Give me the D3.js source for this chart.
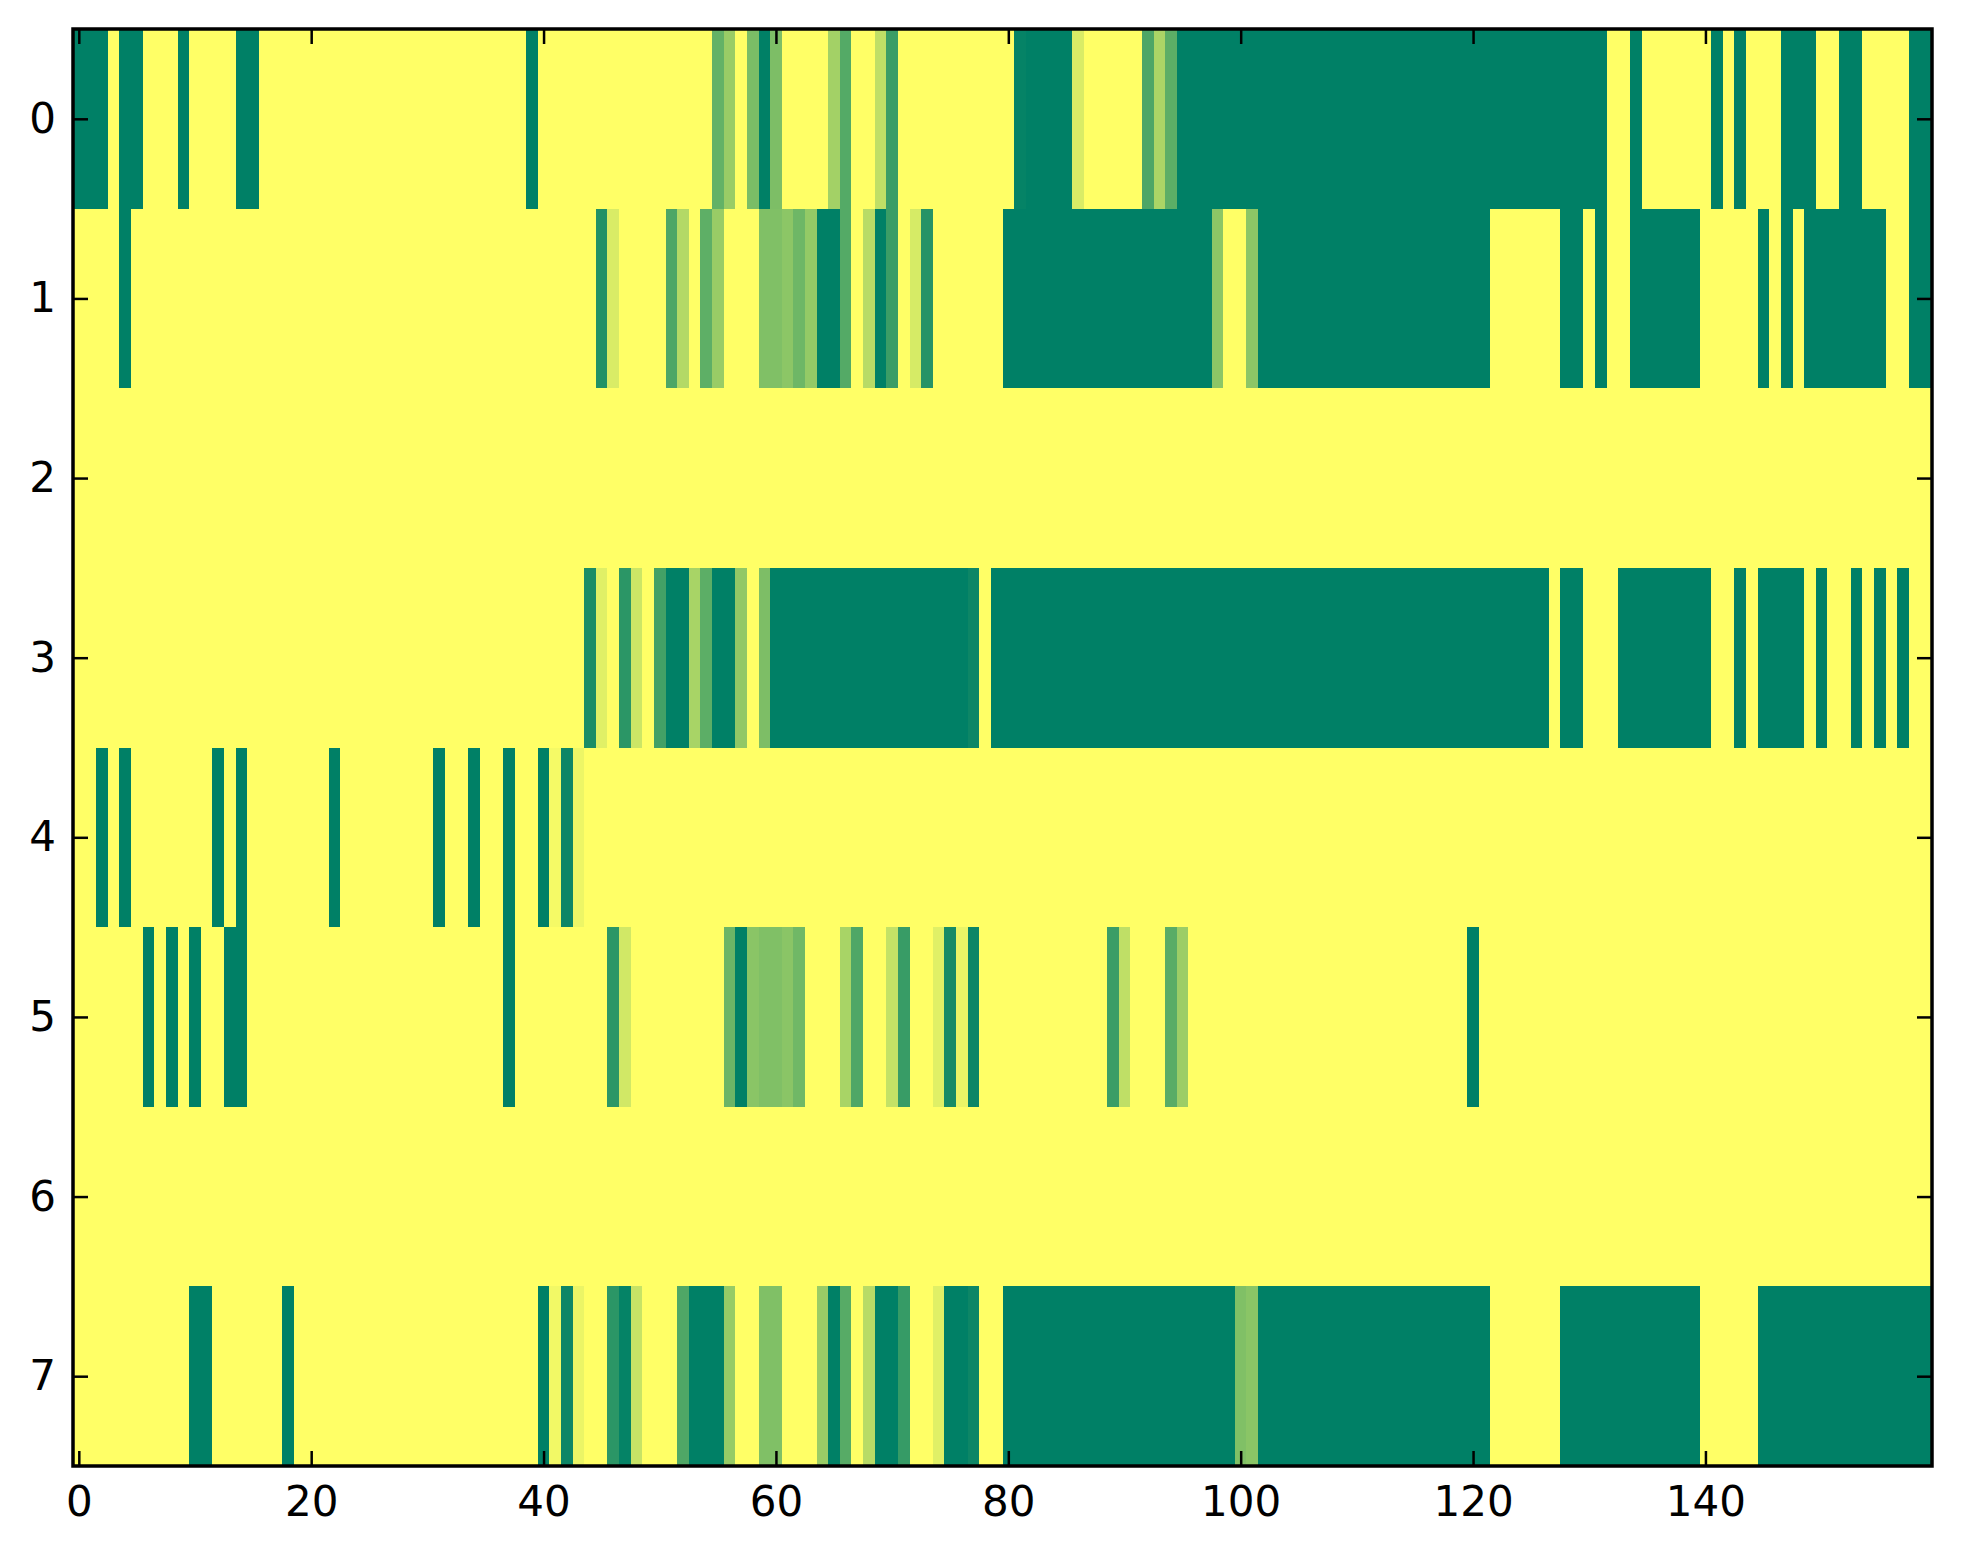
<!DOCTYPE html>
<html>
<head>
<meta charset="utf-8">
<script src="https://cdn.jsdelivr.net/npm/d3@7"></script>
<style>
  body { margin: 0; background: #ffffff; }
</style>
</head>
<body>
<script>

// one array per matrix row, 160 columns each (0 = dark green, 1 = yellow)
const row0 = [
  0,0,0,1,0,0,1,1,1,0, 1,1,1,1,0,0,1,1,1,1,
  1,1,1,1,1,1,1,1,1,1, 1,1,1,1,1,1,1,1,1,0,
  1,1,1,1,1,1,1,1,1,1, 1,1,1,1,1,0.39,0.6,1,0.48,0,
  0.49,1,1,1,1,0.64,0.33,1,1,0.75, 0.23,1,1,1,1,1,1,1,1,1,
  1,0.02,0,0,0,0,0.85,1,1,1, 1,1,0.3,0.67,0.36,0,0,0,0,0,
  0,0,0,0,0,0,0,0,0,0, 0,0,0,0,0,0,0,0,0,0,
  0,0,0,0,0,0,0,0,0,0, 0,0,1,1,0,1,1,1,1,1,
  1,0,1,0,1,1,1,0,0,0, 1,1,0,0,1,1,1,1,0,0
];
const row1 = [
  1,1,1,1,0,1,1,1,1,1, 1,1,1,1,1,1,1,1,1,1,
  1,1,1,1,1,1,1,1,1,1, 1,1,1,1,1,1,1,1,1,1,
  1,1,1,1,1,0.13,0.85,1,1,1, 1,0.3,0.7,1,0.37,0.6,1,1,1,0.5,
  0.5,0.55,0.43,0.58,0,0,0.33,1,0.72,0, 0.23,1,0.84,0.15,1,1,1,1,1,1,
  0,0,0,0,0,0,0,0,0,0, 0,0,0,0,0,0,0,0,0.55,1,
  1,0.55,0,0,0,0,0,0,0,0, 0,0,0,0,0,0,0,0,0,0,
  0,0,1,1,1,1,1,1,0,0, 1,0,1,1,0,0,0,0,0,0,
  1,1,1,1,1,0,1,0,1,0, 0,0,0,0,0,0,1,1,0,0
];
const row2 = [
  1,1,1,1,1,1,1,1,1,1, 1,1,1,1,1,1,1,1,1,1,
  1,1,1,1,1,1,1,1,1,1, 1,1,1,1,1,1,1,1,1,1,
  1,1,1,1,1,1,1,1,1,1, 1,1,1,1,1,1,1,1,1,1,
  1,1,1,1,1,1,1,1,1,1, 1,1,1,1,1,1,1,1,1,1,
  1,1,1,1,1,1,1,1,1,1, 1,1,1,1,1,1,1,1,1,1,
  1,1,1,1,1,1,1,1,1,1, 1,1,1,1,1,1,1,1,1,1,
  1,1,1,1,1,1,1,1,1,1, 1,1,1,1,1,1,1,1,1,1,
  1,1,1,1,1,1,1,1,1,1, 1,1,1,1,1,1,1,1,1,1
];
const row3 = [
  1,1,1,1,1,1,1,1,1,1, 1,1,1,1,1,1,1,1,1,1,
  1,1,1,1,1,1,1,1,1,1, 1,1,1,1,1,1,1,1,1,1,
  1,1,1,1,0.1,0.88,1,0.17,0.8,1, 0.26,0,0,0.66,0.36,0,0,0.57,1,0.49,
  0,0,0,0,0,0,0,0,0,0, 0,0,0,0,0,0,0,0.05,1,0,
  0,0,0,0,0,0,0,0,0,0, 0,0,0,0,0,0,0,0,0,0,
  0,0,0,0,0,0,0,0,0,0, 0,0,0,0,0,0,0,0,0,0,
  0,0,0,0,0,0,0,1,0,0, 1,1,1,0,0,0,0,0,0,0,
  0,1,1,0,1,0,0,0,0,1, 0,1,1,0,1,0,1,0,1,1
];
const row4 = [
  1,1,0,1,0,1,1,1,1,1, 1,1,0,1,0,1,1,1,1,1,
  1,1,0,1,1,1,1,1,1,1, 1,0,1,1,0,1,1,0,1,1,
  0,0.96,0.05,0.93,1,1,1,1,1,1, 1,1,1,1,1,1,1,1,1,1,
  1,1,1,1,1,1,1,1,1,1, 1,1,1,1,1,1,1,1,1,1,
  1,1,1,1,1,1,1,1,1,1, 1,1,1,1,1,1,1,1,1,1,
  1,1,1,1,1,1,1,1,1,1, 1,1,1,1,1,1,1,1,1,1,
  1,1,1,1,1,1,1,1,1,1, 1,1,1,1,1,1,1,1,1,1,
  1,1,1,1,1,1,1,1,1,1, 1,1,1,1,1,1,1,1,1,1
];
const row5 = [
  1,1,1,1,1,1,0,1,0,1, 0,1,1,0,0,1,1,1,1,1,
  1,1,1,1,1,1,1,1,1,1, 1,1,1,1,1,1,1,0,1,1,
  1,1,1,1,1,1,0.17,0.82,1,1, 1,1,1,1,1,1,0.42,0,0.54,0.5,
  0.5,0.54,0.44,1,1,1,0.66,0.31,1,1, 0.77,0.22,1,1,0.88,0.09,0.92,0.05,1,1,
  1,1,1,1,1,1,1,1,1,0.23, 0.75,1,1,1,0.35,0.61,1,1,1,1,
  1,1,1,1,1,1,1,1,1,1, 1,1,1,1,1,1,1,1,1,1,
  0,1,1,1,1,1,1,1,1,1, 1,1,1,1,1,1,1,1,1,1,
  1,1,1,1,1,1,1,1,1,1, 1,1,1,1,1,1,1,1,1,1
];
const row6 = [
  1,1,1,1,1,1,1,1,1,1, 1,1,1,1,1,1,1,1,1,1,
  1,1,1,1,1,1,1,1,1,1, 1,1,1,1,1,1,1,1,1,1,
  1,1,1,1,1,1,1,1,1,1, 1,1,1,1,1,1,1,1,1,1,
  1,1,1,1,1,1,1,1,1,1, 1,1,1,1,1,1,1,1,1,1,
  1,1,1,1,1,1,1,1,1,1, 1,1,1,1,1,1,1,1,1,1,
  1,1,1,1,1,1,1,1,1,1, 1,1,1,1,1,1,1,1,1,1,
  1,1,1,1,1,1,1,1,1,1, 1,1,1,1,1,1,1,1,1,1,
  1,1,1,1,1,1,1,1,1,1, 1,1,1,1,1,1,1,1,1,1
];
const row7 = [
  1,1,1,1,1,1,1,1,1,1, 0,0,1,1,1,1,1,1,0,1,
  1,1,1,1,1,1,1,1,1,1, 1,1,1,1,1,1,1,1,1,1,
  0,0.95,0.05,0.92,1,1,0.17,0.02,0.78,1, 1,1,0.31,0,0,0,0.59,1,1,0.5,
  0.5,1,1,1,0.6,0,0.34,1,0.72,0, 0,0.21,1,1,0.88,0,0,0.05,1,1,
  0,0,0,0,0,0,0,0,0,0, 0,0,0,0,0,0,0,0,0,0,
  0.5,0.54,0,0,0,0,0,0,0,0, 0,0,0,0,0,0,0,0,0,0,
  0,0,1,1,1,1,1,1,0,0, 0,0,0,0,0,0,0,0,0,0,
  1,1,1,1,1,0,0,0,0,0, 0,0,0,0,0,0,0,0,0,0
];

const rows = [row0, row1, row2, row3, row4, row5, row6, row7];
const xTicks = [0, 20, 40, 60, 80, 100, 120, 140];
const yTicks = [0, 1, 2, 3, 4, 5, 6, 7];

const width = 1963;
const height = 1564;
const margin = ({top: 29, right: 31, bottom: 98, left: 73});
const nCols = row0.length;

// flatten into cells
let cells = [];
rows.forEach(function(r, i) {
  r.forEach(function(v, j) {
    cells.push({row: i, col: j, value: v});
  });
});

const xScale = d3.scaleLinear()
                 .domain([-0.5, nCols - 0.5])
                 .range([margin.left, width - margin.right]);

const yScale = d3.scaleLinear()
                 .domain([-0.5, rows.length - 0.5])
                 .range([margin.top, height - margin.bottom]);

// matplotlib "summer": green (0,0.5,0.4) -> yellow (1,1,0.4)
const colorScale = d3.scaleSequential()
                     .domain([0, 1])
                     .interpolator(d3.interpolateRgb('#008066', '#ffff66'));

const svg = d3.select('body')
              .append('svg')
              .attr('width', width)
              .attr('height', height);

svg.append('g')
   .attr('shape-rendering', 'crispEdges')
   .selectAll('rect')
   .data(cells)
   .join('rect')
   .attr('x', d => xScale(d.col - 0.5))
   .attr('y', d => yScale(d.row - 0.5))
   .attr('width', d => xScale(d.col + 0.5) - xScale(d.col - 0.5) + 0.5)
   .attr('height', d => yScale(d.row + 0.5) - yScale(d.row - 0.5) + 0.5)
   .attr('fill', d => colorScale(d.value));

// AXES (ticks point inward on all four sides)
const tickLen = 15;
const fontSize = 42;

function styleAxis(g) {
  g.select('.domain').remove();
  g.selectAll('.tick line')
   .attr('stroke', 'black')
   .attr('stroke-width', 2.5);
  g.selectAll('.tick text')
   .attr('font-family', 'DejaVu Sans')
   .attr('font-size', fontSize)
   .attr('fill', 'black');
}

svg.append('g')
   .attr('transform', `translate(0,${height - margin.bottom})`)
   .call(d3.axisBottom(xScale).tickValues(xTicks).tickSize(-tickLen).tickPadding(20))
   .call(styleAxis);

svg.append('g')
   .attr('transform', `translate(0,${margin.top})`)
   .call(d3.axisTop(xScale).tickValues(xTicks).tickSize(-tickLen).tickFormat(''))
   .call(styleAxis);

svg.append('g')
   .attr('transform', `translate(${margin.left},0)`)
   .call(d3.axisLeft(yScale).tickValues(yTicks).tickSize(-tickLen).tickPadding(17))
   .call(styleAxis);

svg.append('g')
   .attr('transform', `translate(${width - margin.right},0)`)
   .call(d3.axisRight(yScale).tickValues(yTicks).tickSize(-tickLen).tickFormat(''))
   .call(styleAxis);

// frame
svg.append('rect')
   .attr('x', margin.left)
   .attr('y', margin.top)
   .attr('width', width - margin.left - margin.right)
   .attr('height', height - margin.top - margin.bottom)
   .attr('fill', 'none')
   .attr('stroke', 'black')
   .attr('stroke-width', 3.5);

</script>
</body>
</html>
